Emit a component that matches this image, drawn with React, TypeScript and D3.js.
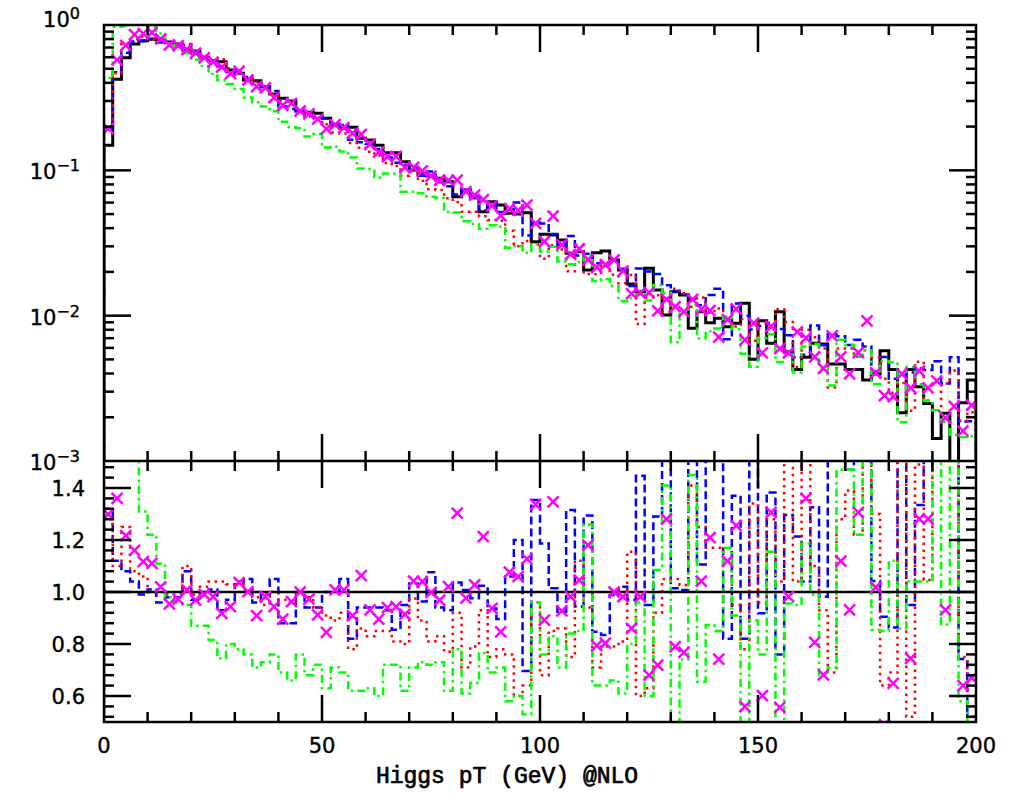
import React from "react";
import * as d3 from "d3";

// Higgs pT histogram, 2 GeV bins from 0 to 200 GeV
const BIN_EDGES_MIN = 0;
const BIN_WIDTH = 2;

// Reference (black, solid) distribution, upper panel
const BLACK = [
  0.149, 0.423, 0.596, 0.74, 0.78, 0.797, 0.788, 0.764, 0.74, 0.673,
  0.662, 0.6, 0.565, 0.559, 0.49, 0.465, 0.418, 0.414, 0.376, 0.335,
  0.313, 0.3, 0.256, 0.251, 0.247, 0.228, 0.205, 0.195, 0.198, 0.166,
  0.162, 0.149, 0.132, 0.132, 0.1147, 0.1005, 0.0954, 0.0914, 0.0882, 0.0835,
  0.0658, 0.0732, 0.0658, 0.0519, 0.0608, 0.0577, 0.0506, 0.0501, 0.0511, 0.0323,
  0.0363, 0.0359, 0.0332, 0.0269, 0.0275, 0.0206, 0.0271, 0.0279, 0.0242, 0.0206,
  0.0165, 0.0146, 0.0212, 0.015, 0.0101, 0.0146, 0.0139, 0.00818, 0.01065, 0.00895,
  0.00959, 0.0084, 0.00886, 0.01217, 0.00501, 0.00923, 0.00645, 0.01065, 0.00565, 0.00427,
  0.00517, 0.00645, 0.00638, 0.00465, 0.00465, 0.00427, 0.00427, 0.00361, 0.00397, 0.00574,
  0.00427, 0.00215, 0.00427, 0.00324, 0.00249, 0.00143, 0.00213, 0.0007, 0.00252, 0.00361,
];

// Ratios to the black reference (lower panel)
const RATIO_BLUE = [
  1.32, 1.12, 1.08, 1.04, 0.99, 1.01, 0.96, 0.98, 0.98, 1.08,
  0.97, 1.0, 1.01, 0.93, 0.97, 1.03, 1.05, 0.96, 0.99, 1.05,
  0.88, 0.88, 1.0, 0.94, 0.94, 1.0, 1.0, 1.05, 0.82, 0.94,
  0.94, 0.94, 0.93, 0.855, 0.95, 1.033, 0.963, 1.076, 0.94, 0.93,
  1.037, 1.008, 0.976, 1.024, 0.937, 0.896, 1.06, 1.2, 0.696, 1.354,
  1.187, 1.014, 0.924, 1.315, 0.944, 1.294, 0.847, 0.835, 0.988, 1.02,
  0.97, 1.447, 0.95, 1.29, 1.6, 1.014, 1.008, 1.6, 1.106, 1.55,
  1.6, 0.82, 1.37, 0.82, 1.6, 0.918, 1.383, 0.76, 1.296, 1.213,
  1.04, 1.326, 0.982, 1.6, 1.55, 1.47, 1.6, 1.7, 1.042, 0.905,
  0.863, 1.8, 0.95, 1.335, 1.7, 3.4, 1.6, 7.4, 0.742, 0.52,
];

const RATIO_RED = [
  1.28, 1.1, 1.25, 1.08, 1.06, 1.0, 1.0, 0.99, 0.99, 1.1,
  0.99, 1.02, 1.04, 1.04, 1.03, 1.04, 1.01, 0.98, 0.95, 1.0,
  0.97, 0.96, 1.0, 0.98, 0.94, 0.91, 0.89, 0.92, 0.78, 0.86,
  0.83, 0.85, 0.85, 0.81, 0.8, 0.975, 0.89, 0.81, 0.83, 0.77,
  0.92, 0.71, 0.79, 0.93, 0.75, 0.78, 0.76, 0.6, 0.64, 0.96,
  0.68, 0.85, 0.86, 0.75, 1.12, 0.94, 0.71, 0.79, 0.79, 0.81,
  1.155, 0.6, 0.63, 0.92, 1.05, 1.05, 1.027, 1.41, 1.25, 1.17,
  1.17, 1.13, 0.95, 0.78, 1.34, 0.96, 1.28, 1.04, 1.6, 1.04,
  1.55, 1.1, 0.93, 0.69, 1.28, 1.39, 1.22, 1.6, 1.3, 0.64,
  0.69, 1.6, 0.52, 1.49, 1.046, 1.55, 1.6, 6.0, 0.75, 0.6,
];

const RATIO_GREEN = [
  2.9, 2.3, 1.65, 1.55, 1.31, 1.22, 1.11, 0.98, 0.96, 0.95,
  0.87, 0.87, 0.815, 0.745, 0.8, 0.78, 0.76, 0.71, 0.73, 0.76,
  0.69, 0.66, 0.76, 0.68, 0.72, 0.63, 0.71, 0.69, 0.62, 0.62,
  0.63, 0.6, 0.72, 0.72, 0.62, 0.71, 0.73, 0.72, 0.73, 0.62,
  0.78, 0.61, 0.65, 0.765, 0.69, 0.71, 0.58, 0.6, 0.53, 0.96,
  0.76, 0.83, 0.71, 0.84, 0.85, 1.26, 0.64, 0.64, 0.66, 0.61,
  0.8, 0.96, 0.6, 1.085, 1.41, 0.45, 0.74, 1.45, 0.655, 0.873,
  0.85, 1.17, 0.91, 0.45, 0.89, 0.76, 1.155, 0.45, 0.956, 0.95,
  1.187, 0.99, 0.68, 0.71, 1.47, 1.47, 1.22, 1.6, 0.854, 0.85,
  1.12, 0.86, 1.04, 1.04, 1.04, 1.56, 0.875, 2.16, 0.58, 0.41,
];

const RATIO_MAGENTA = [
  1.299, 1.36, 1.217, 1.16, 1.117, 1.11, 1.02, 0.954, 0.973, 1.008,
  0.969, 0.991, 0.982, 0.918, 0.944, 1.036, 1.001, 0.909, 0.982, 0.944,
  0.896, 0.963, 1.0, 0.973, 0.912, 0.845, 1.008, 1.008, 0.909, 1.063,
  0.931, 0.896, 0.94, 0.944, 0.914, 1.042, 1.04, 0.999, 0.969, 1.021,
  1.303, 0.976, 1.027, 1.213, 0.937, 0.847, 1.076, 1.059, 1.127, 1.337,
  0.892, 1.347, 0.927, 0.982, 1.046, 1.18, 0.794, 0.803, 1.0, 0.982,
  0.86, 0.982, 0.68, 0.719, 1.28, 0.79, 0.768, 1.58, 1.042, 1.209,
  0.742, 1.119, 1.255, 0.559, 1.77, 0.601, 1.306, 0.556, 0.982, 1.81,
  1.36, 0.806, 0.681, 1.56, 1.119, 0.931, 1.306, 2.55, 1.018, 0.49,
  0.649, 1.85, 0.745, 1.281, 1.281, 2.49, 0.931, 3.4, 0.64, 0.67,
];

const X_TICK_LABELS = ["0", "50", "100", "150", "200"];
const X_LABEL_VALUES = [0, 50, 100, 150, 200];
const LOG_LABEL_EXPONENTS = [0, -1, -2, -3];
const RATIO_LABELS = ["0.6", "0.8", "1.0", "1.2", "1.4"];
const RATIO_LABEL_VALUES = [0.6, 0.8, 1.0, 1.2, 1.4];
const X_TITLE = "Higgs pT (GeV) @NLO";

const W = 1010;
const H = 795;
const L = 104;
const R = 976;
const TOP = 25;
const MID = 461;
const BOT = 722;

const x = d3.scaleLinear().domain([0, 200]).range([L, R]);
const yU = d3.scaleLog().domain([1e-3, 1]).range([MID, TOP]);
const yL = d3.scaleLinear().domain([0.5, 1.5]).range([BOT, MID + 1]);

function stepPath(vals: number[], yf: (v: number) => number, yEdge: number) {
  let d = `M${x(BIN_EDGES_MIN)},${yEdge}`;
  vals.forEach((v, i) => {
    const y = yf(v);
    const x0 = x(BIN_EDGES_MIN + i * BIN_WIDTH);
    const x1 = x(BIN_EDGES_MIN + (i + 1) * BIN_WIDTH);
    d += `L${x0},${y}L${x1},${y}`;
  });
  d += `L${x(BIN_EDGES_MIN + vals.length * BIN_WIDTH)},${yEdge}`;
  return d;
}

const seriesStyles = [
  { key: "blue", ratio: RATIO_BLUE, color: "#0000ff", dash: "8,4" },
  { key: "red", ratio: RATIO_RED, color: "#ff0000", dash: "2.5,4.5" },
  { key: "green", ratio: RATIO_GREEN, color: "#00ff00", dash: "8,4,2.5,4" },
];

const SW = 2.5;

export default function App() {
  const centers = BLACK.map((_, i) => BIN_EDGES_MIN + (i + 0.5) * BIN_WIDTH);
  const magentaUpper = BLACK.map((b, i) => b * RATIO_MAGENTA[i]);

  const ticks: JSX.Element[] = [];
  for (let v = 10; v < 200; v += 10) {
    const len = v % 50 === 0 ? 27 : 10;
    const xx = x(v);
    ticks.push(<line key={`xt1${v}`} x1={xx} x2={xx} y1={TOP} y2={TOP + len} />);
    ticks.push(<line key={`xt2${v}`} x1={xx} x2={xx} y1={MID} y2={MID - len} />);
    ticks.push(<line key={`xt3${v}`} x1={xx} x2={xx} y1={MID} y2={MID + len} />);
    ticks.push(<line key={`xt4${v}`} x1={xx} x2={xx} y1={BOT} y2={BOT - len} />);
  }
  for (let e = -3; e <= 0; e++) {
    for (let k = 1; k <= 9; k++) {
      const v = k * Math.pow(10, e);
      if (v > 1.0001 || (k === 1 && (e === -3 || e === 0))) continue;
      const yy = yU(v);
      const len = k === 1 ? 27 : 10;
      ticks.push(<line key={`yl${e}${k}`} x1={L} x2={L + len} y1={yy} y2={yy} />);
      ticks.push(<line key={`yr${e}${k}`} x1={R} x2={R - len} y1={yy} y2={yy} />);
    }
  }
  for (let j = 0; j < 25; j++) {
    const v = 0.52 + 0.04 * j;
    const yy = yL(v);
    const r = Math.round(v * 100) % 20;
    const len = r === 0 ? 27 : 10;
    ticks.push(<line key={`rl${j}`} x1={L} x2={L + len} y1={yy} y2={yy} />);
    ticks.push(<line key={`rr${j}`} x1={R} x2={R - len} y1={yy} y2={yy} />);
  }

  const cross = (cx: number, cy: number, k: string) => (
    <g key={k}>
      <line x1={cx - 5.5} y1={cy - 5.5} x2={cx + 5.5} y2={cy + 5.5} />
      <line x1={cx - 5.5} y1={cy + 5.5} x2={cx + 5.5} y2={cy - 5.5} />
    </g>
  );

  return (
    <div style={{ position: "absolute", left: 0, top: 0 }}>
      <svg width={W} height={H} style={{ display: "block", background: "#fff" }}>
        <defs>
          <clipPath id="clipU">
            <rect x={L} y={TOP} width={R - L} height={MID - TOP} />
          </clipPath>
          <clipPath id="clipL">
            <rect x={L} y={MID} width={R - L} height={BOT - MID} />
          </clipPath>
        </defs>

        <g clipPath="url(#clipU)" fill="none" strokeWidth={SW}>
          <path d={stepPath(BLACK, yU, MID + 50)} stroke="#000" strokeWidth={3} />
          {seriesStyles.map((s) => (
            <path
              key={s.key}
              d={stepPath(BLACK.map((b, i) => b * s.ratio[i]), yU, MID + 50)}
              stroke={s.color}
              strokeDasharray={s.dash}
            />
          ))}
          <g stroke="#ff00ff" strokeWidth={2.5}>
            {magentaUpper.map((v, i) => cross(x(centers[i]), yU(v), `mu${i}`))}
          </g>
        </g>

        <g clipPath="url(#clipL)" fill="none" strokeWidth={SW}>
          {seriesStyles.map((s) => (
            <path
              key={s.key}
              d={stepPath(s.ratio, yL, BOT + 100)}
              stroke={s.color}
              strokeDasharray={s.dash}
            />
          ))}
          <line x1={L} x2={R} y1={yL(1)} y2={yL(1)} stroke="#000" strokeWidth={2.5} />
          <g stroke="#ff00ff" strokeWidth={2.5}>
            {RATIO_MAGENTA.map((v, i) => cross(x(centers[i]), yL(v), `ml${i}`))}
          </g>
        </g>

        <g stroke="#000" strokeWidth={2.5} fill="none">
          <rect x={L} y={TOP} width={R - L} height={BOT - TOP} />
          <line x1={L} x2={R} y1={MID} y2={MID} />
          {ticks}
        </g>

        <g fontFamily="'DejaVu Sans', sans-serif" fill="#000" stroke="#000" strokeWidth={0.4}>
          {LOG_LABEL_EXPONENTS.map((e, i) => (
            <text
              key={`ll${e}`}
              x={80}
              y={yU(Math.pow(10, e)) + (i === 0 ? 2 : 9)}
              textAnchor="end"
              fontSize={21}
            >
              10
              <tspan dy={-8} fontSize={16}>
                {e === 0 ? "0" : `\u2212${-e}`}
              </tspan>
            </text>
          ))}
          {RATIO_LABELS.map((t, i) => (
            <text key={`rlab${t}`} x={85} y={yL(RATIO_LABEL_VALUES[i]) + 8} textAnchor="end" fontSize={21}>
              {t}
            </text>
          ))}
          {X_TICK_LABELS.map((t, i) => (
            <text key={`xl${t}`} x={x(X_LABEL_VALUES[i])} y={753} textAnchor="middle" fontSize={21}>
              {t}
            </text>
          ))}
        </g>
        <text
          x={507}
          y={783}
          textAnchor="middle"
          fontFamily="'Liberation Mono', 'Courier New', monospace"
          fontSize={23}
          stroke="#000"
          strokeWidth={0.7}
        >
          {X_TITLE}
        </text>
      </svg>
    </div>
  );
}
